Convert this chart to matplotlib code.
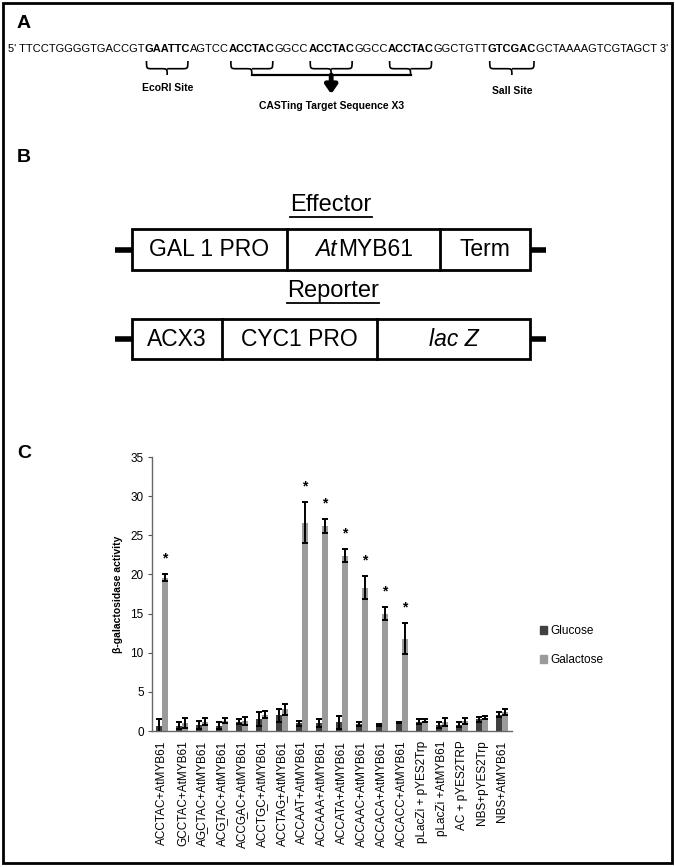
import matplotlib
matplotlib.use('Agg')
import matplotlib.pyplot as plt
from matplotlib.patches import Rectangle, Patch, PathPatch
from matplotlib.path import Path
import numpy as np

plt.rcParams['font.family'] = ['Liberation Sans', 'DejaVu Sans']

# ---------------- data ----------------
categories = ["ACCTAC+AtMYB61", "G\u0332CCTAC+AtMYB61", "AG\u0332CTAC+AtMYB61",
              "ACG\u0332TAC+AtMYB61", "ACCG\u0332AC+AtMYB61", "ACCTG\u0332C+AtMYB61",
              "ACCTAG\u0332+AtMYB61", "ACCAAT+AtMYB61", "ACCAAA+AtMYB61",
              "ACCATA+AtMYB61", "ACCAAC+AtMYB61", "ACCACA+AtMYB61", "ACCACC+AtMYB61",
              "pLacZi + pYES2Trp", "pLacZi +AtMYB61", "AC + pYES2TRP",
              "NBS+pYES2Trp", "NBS+AtMYB61"]
glucose = [0.7, 0.7, 0.8, 0.7, 1.2, 1.5, 2.0, 1.0, 1.0, 1.1, 0.9, 0.8, 1.1,
           1.2, 0.8, 0.8, 1.5, 2.1]
glucose_err = [0.8, 0.5, 0.5, 0.4, 0.3, 0.9, 0.8, 0.3, 0.5, 0.8, 0.3, 0.1, 0.1,
               0.3, 0.4, 0.3, 0.3, 0.3]
galactose = [19.6, 1.0, 1.2, 1.3, 1.3, 2.1, 2.8, 26.6, 26.2, 22.4, 18.3, 15.0, 11.8,
             1.3, 1.2, 1.3, 1.7, 2.4]
galactose_err = [0.5, 0.6, 0.4, 0.3, 0.5, 0.5, 0.7, 2.6, 0.9, 0.8, 1.5, 0.8, 2.0,
                 0.2, 0.5, 0.4, 0.2, 0.4]
significant = [True, False, False, False, False, False, False, True, True, True,
               True, True, True, False, False, False, False, False]
series_names = ["Glucose", "Galactose"]
yticks = [0, 5, 10, 15, 20, 25, 30, 35]

W, H = 675, 867
fig = plt.figure(figsize=(W / 100, H / 100), dpi=100)
bg = fig.add_axes([0, 0, 1, 1])
bg.set_xlim(0, W)
bg.set_ylim(H, 0)
bg.axis('off')
renderer = fig.canvas.get_renderer()

# outer border
bg.add_patch(Rectangle((3, 3), W - 6, H - 7, fill=False, lw=2, ec='black'))


def put(x, y, s, **kw):
    t = bg.text(x, y, s, **kw)
    bb = t.get_window_extent(renderer)
    return t, bb.width


# ---------------- panel A ----------------
bg.text(17, 23, "A", fontsize=14, fontweight='bold', va='center', ha='left')
segments = [("5' TTCCTGGGGTGACCGT", 'normal'), ("GAATTC", 'bold'), ("AGTCC", 'normal'),
            ("ACCTAC", 'bold'), ("GGCC", 'normal'), ("ACCTAC", 'bold'), ("GGCC", 'normal'),
            ("ACCTAC", 'bold'), ("GGCTGTT", 'normal'), ("GTCGAC", 'bold'),
            ("GCTAAAAGTCGTAGCT 3'", 'normal')]
seq_y = 52
x0, x1 = 8, 667
fs0 = 8.0
tot = 0
for s, w in segments:
    t, wd = put(0, seq_y, s, fontsize=fs0, fontweight=w)
    tot += wd
    t.remove()
fs = fs0 * (x1 - x0) / tot
x = x0
bold_spans = []
for s, w in segments:
    t, wd = put(x, seq_y, s, fontsize=fs, fontweight=w, va='baseline', ha='left')
    if w == 'bold':
        bold_spans.append((x, x + wd))
    x += wd


def brace(xa, xb, ytop, h, lw=1.2):
    xm = (xa + xb) / 2
    q = min(6, (xb - xa) / 4)
    yh = ytop + h * 0.55
    yb = ytop + h
    verts = [(xa, ytop), (xa, yh), (xa, yh), (xa + q, yh),
             (xm - q, yh), (xm, yh), (xm, yh), (xm, yb),
             (xm, yh), (xm, yh), (xm + q, yh),
             (xb - q, yh), (xb, yh), (xb, yh), (xb, ytop)]
    codes = [Path.MOVETO, Path.CURVE4, Path.CURVE4, Path.CURVE4,
             Path.LINETO, Path.CURVE4, Path.CURVE4, Path.CURVE4,
             Path.MOVETO, Path.CURVE4, Path.CURVE4,
             Path.LINETO, Path.CURVE4, Path.CURVE4, Path.CURVE4]
    bg.add_patch(PathPatch(Path(verts, codes), fill=False, lw=lw, ec='black'))
    return xm, yb


br_top, br_h = 61, 14
xm, yb = brace(bold_spans[0][0] + 2, bold_spans[0][1] - 2, br_top, br_h)
bg.text(xm, yb + 13, "EcoRI Site", fontsize=7.5, fontweight='bold', ha='center', va='center')
tips = []
for a, b in bold_spans[1:4]:
    tips.append(brace(a + 2, b - 2, br_top, br_h))
bg.plot([tips[0][0], tips[2][0]], [tips[0][1], tips[0][1]], color='black', lw=1.6)
bg.annotate("", xy=(tips[1][0], tips[1][1] + 19), xytext=(tips[1][0], tips[1][1]),
            arrowprops=dict(arrowstyle='-|>,head_width=0.35,head_length=0.5', lw=3.5,
                            color='black', shrinkA=0, shrinkB=0))
bg.text(tips[1][0], tips[1][1] + 31, "CASTing Target Sequence X3", fontsize=7.5,
        fontweight='bold', ha='center', va='center')
xm, yb = brace(bold_spans[4][0] + 2, bold_spans[4][1] - 2, br_top, br_h)
bg.text(xm, yb + 16, "SalI Site", fontsize=7.5, fontweight='bold', ha='center', va='center')

# ---------------- panel B ----------------
bg.text(17, 157, "B", fontsize=14, fontweight='bold', va='center', ha='left')
bfs = 16.5


def underlined(xc, y, s):
    t, wd = put(xc, y, s, fontsize=bfs + 0.5, ha='center', va='center')
    bb = t.get_window_extent(renderer)
    yb_ = H - bb.y0 + 1
    bg.plot([xc - wd / 2, xc + wd / 2], [yb_, yb_], color='black', lw=1.3)


def construct(ytop, yb_, divs, lx0, lx1):
    ym = (ytop + yb_) / 2
    bg.plot([lx0 - 17, lx0], [ym, ym], color='black', lw=4, solid_capstyle='butt')
    bg.plot([lx1, lx1 + 16], [ym, ym], color='black', lw=4, solid_capstyle='butt')
    bg.add_patch(Rectangle((lx0, ytop), lx1 - lx0, yb_ - ytop, fill=False, lw=2, ec='black'))
    for d in divs:
        bg.plot([d, d], [ytop, yb_], color='black', lw=2)
    return ym


underlined(331, 205, "Effector")
ym = construct(229, 270, [287, 440], 132, 530)
bg.text((132 + 287) / 2, ym, "GAL 1 PRO", fontsize=bfs, ha='center', va='center')
t1, w1 = put(0, ym, "At", fontsize=bfs, style='italic')
t1.remove()
t2, w2 = put(0, ym, "MYB61", fontsize=bfs)
t2.remove()
xs = (287 + 440) / 2 - (w1 + w2) / 2
bg.text(xs, ym, "At", fontsize=bfs, style='italic', ha='left', va='center')
bg.text(xs + w1 + 1, ym, "MYB61", fontsize=bfs, ha='left', va='center')
bg.text((440 + 530) / 2, ym, "Term", fontsize=bfs, ha='center', va='center')

underlined(333, 291, "Reporter")
ym = construct(319, 359, [222, 377], 132, 530)
bg.text((132 + 222) / 2, ym, "ACX3", fontsize=bfs, ha='center', va='center')
bg.text((222 + 377) / 2, ym, "CYC1 PRO", fontsize=bfs, ha='center', va='center')
bg.text((377 + 530) / 2, ym, "lac Z", fontsize=bfs, style='italic', ha='center', va='center')

# ---------------- panel C ----------------
bg.text(17, 453, "C", fontsize=14, fontweight='bold', va='center', ha='left')
ax_l, ax_r, ax_b, ax_t = 152, 512, 731, 457
ax = fig.add_axes([ax_l / W, 1 - ax_b / H, (ax_r - ax_l) / W, (ax_b - ax_t) / H])
ax.set_facecolor('none')
xpos = np.arange(len(categories))
bw = 0.28
ekw = dict(elinewidth=1.4, capthick=1.4, ecolor='black')
ax.bar(xpos - bw / 2, glucose, bw, color='#404040', yerr=glucose_err, capsize=2.5,
       error_kw=ekw, label=series_names[0], zorder=2)
ax.bar(xpos + bw / 2, galactose, bw, color='#9b9b9b', yerr=galactose_err, capsize=2.5,
       error_kw=ekw, label=series_names[1], zorder=2)
for i, sig in enumerate(significant):
    if sig:
        ax.text(xpos[i] + bw / 2, galactose[i] + galactose_err[i] + 2.0, "*",
                ha='center', va='center', fontsize=10, fontweight='bold')
ax.set_xlim(-0.5, len(categories) - 0.5)
ax.set_ylim(0, 35)
ax.set_yticks(yticks)
ax.tick_params(axis='y', labelsize=8.5, length=3, width=0.8, color='#555555', pad=3)
ax.set_xticks(xpos)
ax.set_xticklabels(categories, rotation=90, fontsize=8.5,
                   fontfamily=['Liberation Sans', 'DejaVu Sans'])
ax.tick_params(axis='x', length=0, pad=7)
for s in ['top', 'right']:
    ax.spines[s].set_visible(False)
for s in ['left', 'bottom']:
    ax.spines[s].set_color('#666666')
    ax.spines[s].set_linewidth(1.0)
ax.set_ylabel("β-galactosidase activity", fontsize=7.5, fontweight='bold')
ax.yaxis.set_label_coords((123 - ax_l) / (ax_r - ax_l), 0.5)

handles = [Patch(color='#404040', label=series_names[0]),
           Patch(color='#9b9b9b', label=series_names[1])]
fig.legend(handles=handles, loc='upper left', bbox_to_anchor=(540 / W, 1 - 625 / H),
           frameon=False, fontsize=8.5, handlelength=0.6, handleheight=0.6,
           handletextpad=0.3, labelspacing=1.45, borderaxespad=0, borderpad=0)

fig.savefig("out.png", dpi=100)
